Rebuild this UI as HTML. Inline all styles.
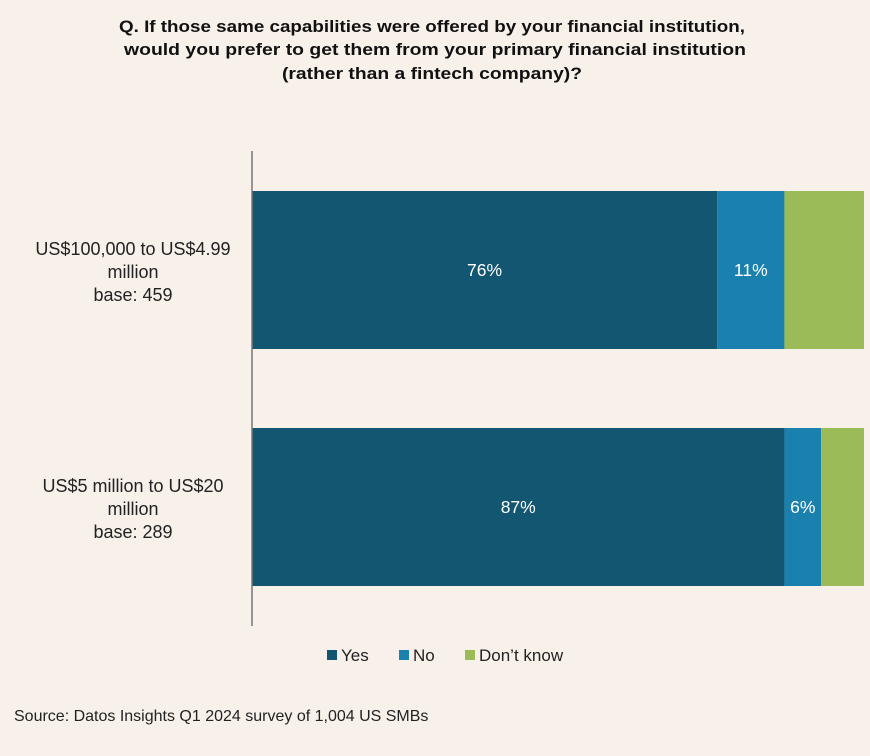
<!DOCTYPE html>
<html><head><meta charset="utf-8"><style>
html,body{margin:0;padding:0;background:#f8f1ea;}
svg{display:block;font-family:"Liberation Sans",sans-serif;}
</style></head><body>
<svg width="870" height="756" viewBox="0 0 870 756">
<rect width="870" height="756" fill="#f8f1ea"/>
<g font-weight="bold" font-size="17" fill="#111" text-anchor="middle">
<text x="432" y="32" textLength="626" lengthAdjust="spacingAndGlyphs">Q. If those same capabilities were offered by your financial institution,</text>
<text x="435" y="55" textLength="622" lengthAdjust="spacingAndGlyphs">would you prefer to get them from your primary financial institution</text>
<text x="432" y="79" textLength="300" lengthAdjust="spacingAndGlyphs">(rather than a fintech company)?</text>
</g>
<g id="bars"></g>
<line x1="252" y1="151" x2="252" y2="626" stroke="#777" stroke-width="1.5"/>
<g font-size="17" fill="#222">
<rect x="327" y="650" width="10" height="10" fill="#135672"/>
<text x="341" y="661">Yes</text>
<rect x="399" y="650" width="10" height="10" fill="#1a80ad"/>
<text x="413" y="661">No</text>
<rect x="465" y="650" width="10" height="10" fill="#9bbb59"/>
<text x="479" y="661">Don’t know</text>
</g>
<text x="14" y="721" font-size="16" fill="#222">Source: Datos Insights Q1 2024 survey of 1,004 US SMBs</text>
</svg>
<script>
const categories = [["US$100,000 to US$4.99","million","base: 459"],["US$5 million to US$20","million","base: 289"]];
const yesValues = [76, 87];
const noValues = [11, 6];
const dkValues = [13, 7];
const yesLabels = ["76%", "87%"];
const noLabels = ["11%", "6%"];
const dkLabels = ["", ""];
const NS = "http://www.w3.org/2000/svg";
const x0 = 252, plotW = 612;
function xs(v){ return v / 100 * plotW; }
const bandTop = [191, 428], barH = 158;
const g = document.getElementById('bars');
const series = [
 {vals: yesValues, labels: yesLabels, color: "#135672", name: "yes"},
 {vals: noValues, labels: noLabels, color: "#1a80ad", name: "no"},
 {vals: dkValues, labels: dkLabels, color: "#9bbb59", name: "dont-know"}
];
categories.forEach((cat, i) => {
  let x = x0;
  const y = bandTop[i];
  series.forEach(s => {
    const w = xs(s.vals[i]);
    const r = document.createElementNS(NS, 'rect');
    r.setAttribute('x', x); r.setAttribute('y', y);
    r.setAttribute('width', w); r.setAttribute('height', barH);
    r.setAttribute('fill', s.color);
    
    
    g.appendChild(r);
    if (s.labels[i]) {
      const t = document.createElementNS(NS, 'text');
      t.setAttribute('x', x + w / 2); t.setAttribute('y', y + barH / 2 + 6);
      t.setAttribute('text-anchor', 'middle'); t.setAttribute('fill', '#fff');
      t.setAttribute('font-size', '17.5');
      t.textContent = s.labels[i];
      
      
      g.appendChild(t);
    }
    x += w;
  });
  const lab = document.createElementNS(NS, 'text');
  lab.setAttribute('font-size', '18'); lab.setAttribute('fill', '#222');
  lab.setAttribute('text-anchor', 'middle');
  
  
  cat.forEach((line, k) => {
    const ts = document.createElementNS(NS, 'tspan');
    ts.setAttribute('x', 133); ts.setAttribute('y', y + 64 + k * 23);
    ts.textContent = line;
    lab.appendChild(ts);
  });
  g.appendChild(lab);
});
</script>
</body></html>
